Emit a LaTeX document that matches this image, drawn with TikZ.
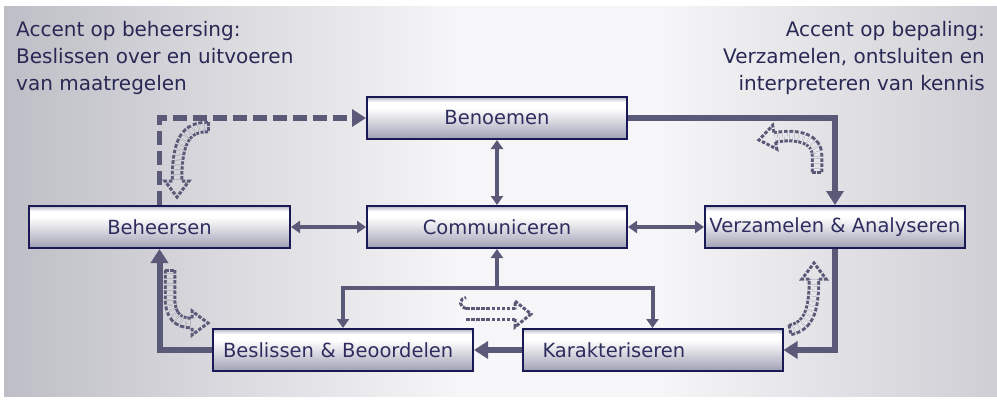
\documentclass[tikz,border=0pt]{standalone}
\usepackage{fontspec}
\setmainfont{DejaVu Sans}
\usetikzlibrary{arrows.meta}
\definecolor{conn}{RGB}{90,90,120}
\definecolor{boxline}{RGB}{25,25,85}
\definecolor{boxtext}{RGB}{45,45,95}
\definecolor{hdrtext}{RGB}{40,40,85}
\definecolor{boxB}{RGB}{160,160,180}
\definecolor{boxM}{RGB}{212,212,222}
\definecolor{boxT}{RGB}{180,180,196}
\definecolor{bgL}{RGB}{190,190,198}
\definecolor{bgM}{RGB}{246,246,248}
\definecolor{bgR}{RGB}{206,206,212}
\definecolor{bgA}{RGB}{211,211,217}
\definecolor{bgC}{RGB}{229,229,233}
\pgfdeclareverticalshading{boxshade}{100bp}{color(0bp)=(boxB); color(25bp)=(boxB); color(45bp)=(boxM); color(62bp)=(white); color(69bp)=(white); color(75bp)=(boxT); color(100bp)=(boxT)}
\pgfdeclarehorizontalshading{bgshade}{100bp}{color(0bp)=(bgL); color(25bp)=(bgL); color(48bp)=(bgM); color(58bp)=(bgM); color(75bp)=(bgR); color(100bp)=(bgR)}
\newcommand{\hollowhead}[3]{%
  \begin{scope}[shift={#1}, rotate=#2]
    \draw[dotline] (-16,4.75) -- (-16,#3) -- (0,0) -- (-16,-#3) -- (-16,-4.75);
  \end{scope}}
\tikzset{
  box/.style={draw=boxline, line width=2pt, shade, shading=boxshade,
    minimum width=260pt, minimum height=42pt, inner sep=0pt,
    text=boxtext, font=\fontsize{19.5}{22}\selectfont},
  hdr/.style={inner sep=0pt, text=hdrtext, font=\fontsize{20}{27}\selectfont},
  flow/.style={draw=conn, line width=6pt, -{Triangle[length=14pt,width=17pt]}},
  dashflow/.style={flow, line width=5.5pt, dash pattern=on 14pt off 6pt},
  biarrow/.style={draw=conn, line width=4pt,
    {Triangle[length=9pt,width=12pt]}-{Triangle[length=9pt,width=12pt]}},
  bus/.style={draw=conn, line width=4pt},
  dotline/.style={draw=conn, line width=3pt, dash pattern=on 3.5pt off 1.6pt},
  dotbody/.style={dotline, double distance=6.5pt},
}
\begin{document}
\begin{tikzpicture}[x=1pt,y=-1pt]
\useasboundingbox (0,0) rectangle (997,400);
\fill[white] (0,0) rectangle (997,400);
\shade[shading=bgshade] (4,6) rectangle (997,396);

% headers
\node[hdr, anchor=north west, align=left] (hl) at (16,21.3)
  {Accent op beheersing:\\Beslissen over en uitvoeren\\van maatregelen};
\node[hdr, anchor=north east, align=right] (hr) at (985,21.3)
  {Accent op bepaling:\\Verzamelen, ontsluiten en\\interpreteren van kennis};

% boxes
\node[box] (ben) at (497,118) {Benoemen};
\node[box] (com) at (497,227) {Communiceren};
\node[box, minimum width=261pt] (beh) at (159.5,227) {Beheersen};
\node[box] (ver) at (835,227) {Verzamelen \& Analyseren};
\node[box, text width=240pt, inner xsep=10pt, align=left] (bes) at (343,350) {Beslissen \& Beoordelen};
\node[box, text width=220pt, inner xsep=20pt, align=left] (kar) at (652.5,350) {Karakteriseren};

% main cycle
\draw[flow] (ben.east) -| (ver.north);
\draw[flow] (ver.south) |- (kar.east);
\draw[flow] (kar.west) -- (bes.east);
\draw[flow] (bes.west) -| (beh.south);
\draw[dashflow] (beh.north) |- (ben.west);

% communication
\draw[biarrow] (ben.south) -- (com.north);
\draw[biarrow] (beh.east) -- (com.west);
\draw[biarrow] (com.east) -- (ver.west);
\coordinate (bus) at (497,288);
\draw[bus, {Triangle[length=9pt,width=12pt]}-{Triangle[length=9pt,width=12pt]}] (bes.north) |- (bus) -| (kar.north);
\draw[bus, -{Triangle[length=9pt,width=12pt]}] (bus) -- (com.south);

% dotted hollow arrows
\draw[dotbody, double=bgA] (208,127) .. controls (186,127) and (177,140) .. (177,181);
\draw[dotline] (208,122) -- (208,132);
\hollowhead{(177,197)}{-90}{12}
\draw[dotbody, double=bgC] (817,172) -- (817,155) .. controls (817,140) and (800,133) .. (775,137.4);
\draw[dotline] (812,172) -- (822,172);
\hollowhead{(759,140)}{190}{12}
\draw[dotbody, double=bgC] (790,330) .. controls (808,326) and (814,312) .. (814,279);
\draw[dotline] (789,325) -- (791,335);
\hollowhead{(814,263)}{90}{12}
\draw[dotbody, double=bgM, double distance=8pt] (466,314) -- (515,314);
\draw[dotline] (466,308.5) arc[start angle=90, end angle=270, radius=5.5];
\hollowhead{(531,314)}{0}{13}
\draw[dotbody, double=bgA] (170,270) -- (170,298) .. controls (170,316) and (178,323) .. (192,323);
\draw[dotline] (165,270) -- (175,270);
\hollowhead{(208,323)}{0}{12}
\end{tikzpicture}
\end{document}
